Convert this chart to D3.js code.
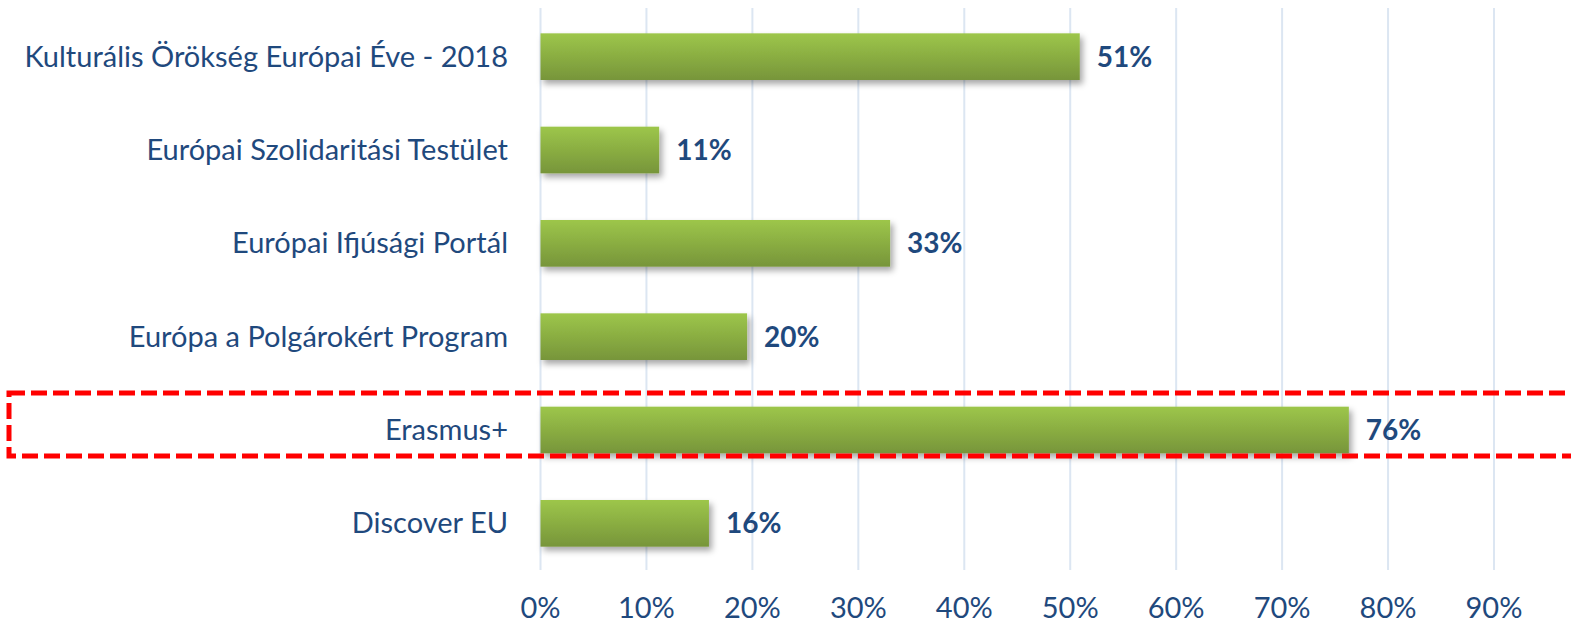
<!DOCTYPE html>
<html>
<head>
<meta charset="utf-8">
<script src="https://d3js.org/d3.v7.min.js"></script>
<style>
  body { margin: 0; background: #fff; }
  svg text { font-family: Lato, "Open Sans", sans-serif; fill: #1F497D; }
  .cat { font-size: 29px; }
  .val { font-size: 28px; font-weight: bold; }
  .tick-lab { font-size: 29px; }
</style>
</head>
<body>
<svg width="1571" height="624"></svg>
<script>
var categories = ["Kulturális Örökség Európai Éve - 2018", "Európai Szolidaritási Testület",
                  "Európai Ifjúsági Portál", "Európa a Polgárokért Program", "Erasmus+", "Discover EU"];
var values = [50.9, 11.2, 33.0, 19.5, 76.3, 15.9];
var ticks = [0, 10, 20, 30, 40, 50, 60, 70, 80, 90];
var highlighted = "Erasmus+";

var svg = d3.select("svg");
var plotLeft = 540.5, plotRight = 1494, plotTop = 10, plotBottom = 570;

var x = d3.scaleLinear().domain([0, 90]).range([plotLeft, plotRight]);
var y = d3.scaleBand().domain(categories).range([plotTop, plotBottom]).paddingInner(0.5).paddingOuter(0.25);

var defs = svg.append("defs");
var grad = defs.append("linearGradient").attr("id", "barGrad")
    .attr("x1", 0).attr("y1", 0).attr("x2", 0).attr("y2", 1);
grad.append("stop").attr("offset", "0%").attr("stop-color", "#9DC64A");
grad.append("stop").attr("offset", "100%").attr("stop-color", "#77953A");
var f = defs.append("filter").attr("id", "shadow").attr("x", "-5%").attr("y", "-20%").attr("width", "115%").attr("height", "160%");
f.append("feDropShadow").attr("dx", 3).attr("dy", 4).attr("stdDeviation", 3)
    .attr("flood-color", "#000").attr("flood-opacity", 0.35);

// grid
svg.append("g").selectAll("line").data(ticks).enter().append("line")
    .attr("x1", d => x(d)).attr("x2", d => x(d))
    .attr("y1", 8).attr("y2", 570)
    .attr("stroke", "#DCE6F2").attr("stroke-width", 2);

// bars
svg.append("g").selectAll("rect").data(categories).enter().append("rect")
    .attr("x", x(0))
    .attr("y", d => y(d))
    .attr("width", (d, i) => x(values[i]) - x(0))
    .attr("height", y.bandwidth())
    .attr("fill", "url(#barGrad)")
    .attr("filter", "url(#shadow)");

// value labels
svg.append("g").selectAll("text").data(categories).enter().append("text")
    .attr("class", "val")
    .attr("x", (d, i) => x(values[i]) + 17)
    .attr("y", d => y(d) + y.bandwidth() / 2)
    .attr("dy", "0.36em")
    .text((d, i) => Math.round(values[i]) + "%");

// category labels
svg.append("g").selectAll("text").data(categories).enter().append("text")
    .attr("class", "cat")
    .attr("x", 508)
    .attr("y", d => y(d) + y.bandwidth() / 2)
    .attr("dy", "0.34em")
    .attr("text-anchor", "end")
    .text(d => d);

// x tick labels
svg.append("g").selectAll("text").data(ticks).enter().append("text")
    .attr("class", "tick-lab")
    .attr("x", d => x(d))
    .attr("y", 618)
    .attr("text-anchor", "middle")
    .text(d => d + "%");

// highlight box
var yc = y(highlighted) + y.bandwidth() / 2;
svg.append("rect")
    .attr("x", 9).attr("y", yc - 37)
    .attr("width", 1600).attr("height", 63)
    .attr("fill", "none")
    .attr("stroke", "#FF0000").attr("stroke-width", 5)
    .attr("stroke-dasharray", "16,6");
</script>
</body>
</html>
